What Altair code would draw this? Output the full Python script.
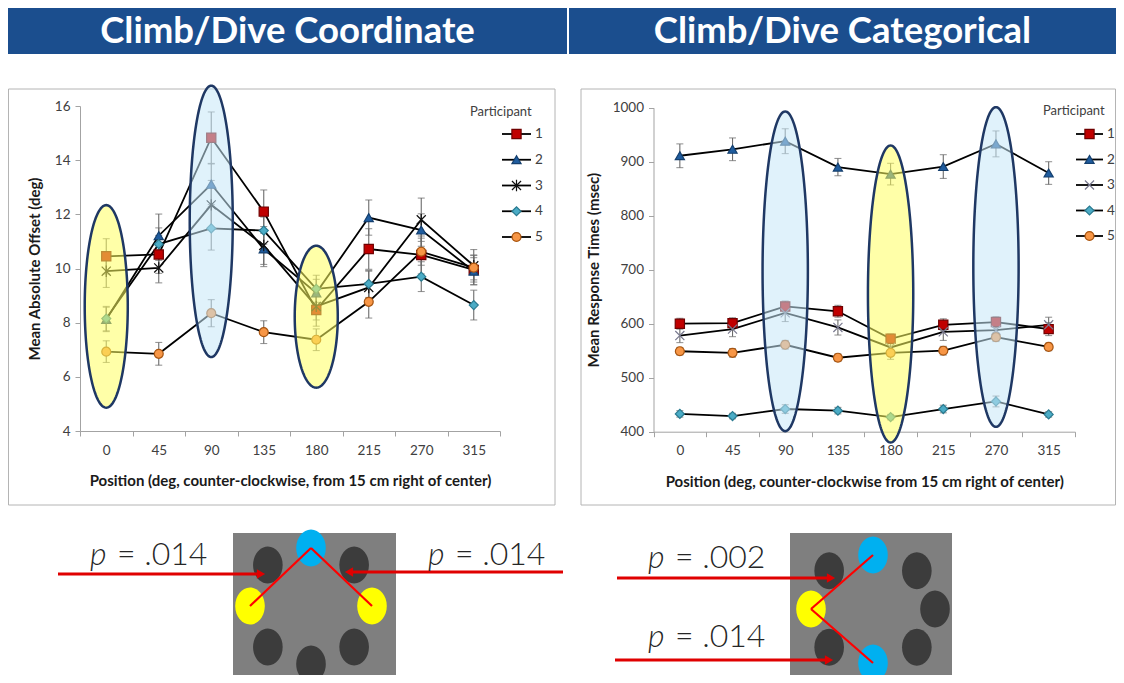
import json
import numpy as np
import pandas as pd
import altair as alt

# ---------------- data ----------------
positions = ["0", "45", "90", "135", "180", "215", "270", "315"]
participants = ["1", "2", "3", "4", "5"]

# Climb/Dive Coordinate: mean absolute offset (deg)
coord_p1 = [10.45, 10.52, 14.83, 12.10, 8.47, 10.72, 10.50, 9.95]
coord_p2 = [8.12, 11.21, 13.11, 10.72, 9.10, 11.88, 11.42, 9.90]
coord_p3 = [9.90, 10.02, 12.35, 10.85, 8.60, 9.30, 11.80, 10.10]
coord_p4 = [8.15, 10.90, 11.48, 11.40, 9.25, 9.43, 9.70, 8.65]
coord_p5 = [6.93, 6.85, 8.35, 7.65, 7.37, 8.77, 10.62, 10.03]
coord_err_p1 = [0.65, 0.70, 0.95, 0.80, 0.60, 0.75, 0.70, 0.55]
coord_err_p2 = [0.45, 0.80, 0.75, 0.65, 0.50, 0.65, 0.60, 0.50]
coord_err_p3 = [0.60, 0.55, 0.90, 0.70, 0.50, 0.60, 0.80, 0.60]
coord_err_p4 = [0.45, 0.60, 0.80, 0.50, 0.50, 0.50, 0.55, 0.55]
coord_err_p5 = [0.40, 0.42, 0.50, 0.42, 0.40, 0.60, 0.50, 0.45]

# Climb/Dive Categorical: mean response times (msec)
cat_p1 = [600, 601, 632, 623, 572, 598, 603, 590]
cat_p2 = [911, 923, 938, 890, 877, 891, 933, 879]
cat_p3 = [578, 590, 620, 593, 556, 585, 588, 598]
cat_p4 = [433, 429, 442, 439, 427, 442, 456, 432]
cat_p5 = [549, 546, 561, 537, 546, 550, 575, 557]
cat_err_p1 = [10, 10, 10, 11, 9, 11, 10, 12]
cat_err_p2 = [22, 21, 23, 16, 20, 22, 24, 21]
cat_err_p3 = [13, 14, 16, 14, 12, 16, 12, 14]
cat_err_p4 = [6, 5, 8, 6, 5, 7, 10, 5]
cat_err_p5 = [7, 8, 8, 7, 12, 8, 8, 7]

# highlighted positions (ellipses): position index, kind, middle and half height in data units
coord_hl_pos = [0, 2, 4]
coord_hl_kind = ["yellow", "blue", "yellow"]
coord_hl_mid = [8.6, 11.74, 8.22]
coord_hl_half = [3.74, 5.01, 2.62]
cat_hl_pos = [2, 4, 6]
cat_hl_kind = ["blue", "yellow", "blue"]
cat_hl_mid = [697, 655, 705]
cat_hl_half = [296, 275, 296]

coord_p_values = [".014", ".014"]
cat_p_values = [".002", ".014"]

titles = ["Climb/Dive Coordinate", "Climb/Dive Categorical"]

# ---------------- styles / layout ----------------
W, H = 1108, 667
FONT = "Lato"
AX = "#A3A3A3"
LABEL = "#404040"
TITLE = "#1A1A1A"
ERR = "#6B6B6B"
BANNER = "#1B4E8E"
ELL_STROKE = "#1F3864"
HL_FILL = {"yellow": "#FFFF60", "blue": "#C6E7F8"}
STIM = {"yellow": "#FFFF00", "blue": "#00B0F0", "dark": "#3C3C3C"}

STAR = "M-1,-1L1,1M-1,1L1,-1M0,-1.25L0,1.25"
XSHAPE = "M-1,-1L1,1M-1,1L1,-1"
OVAL = "M0,-1A0.8,1 0 1 1 0,1A0.8,1 0 1 1 0,-1Z"

fills = ["#C00000", "#1F5C9E", "transparent", "#4BACC6", "#F79646"]
strokes_coord = ["#700000", "#143F6E", "#111111", "#2A7A90", "#A85510"]
strokes_cat = ["#700000", "#143F6E", "#7A7A90", "#2A7A90", "#A85510"]
sizes = [85, 80, 75, 70, 80]

LABEL_FS = 13.5
TITLE_FS = 15


def panel_df(series, errs):
    rows = []
    for k, p in enumerate(participants):
        for i, pos in enumerate(positions):
            m, e = series[k][i], errs[k][i]
            rows.append(dict(idx=i, pos=pos, participant=p, mean=m, lo=m - e, hi=m + e))
    return pd.DataFrame(rows)


def ellipse_df(hl_pos, hl_kind, hl_mid, hl_half, half_w):
    t = np.linspace(0, np.pi, 81)
    rows = []
    for j, (c, kind, mid, half) in enumerate(zip(hl_pos, hl_kind, hl_mid, hl_half)):
        for tt in t:
            s = np.sin(tt)
            rows.append(dict(eid=j, x=c - half_w * np.cos(tt), lo=mid - half * s,
                             hi=mid + half * s, fillc=HL_FILL[kind]))
    return pd.DataFrame(rows)


def panel(df, edf, x_rng, y_rng, y_dom, y_vals, y_title, x_title, shapes, strokes, leg, ytp):
    xs = alt.Scale(domain=[-0.5, 7.5], range=list(x_rng), nice=False, zero=False)
    ys = alt.Scale(domain=y_dom, range=list(y_rng), nice=False, zero=False)
    band = (x_rng[1] - x_rng[0]) / 8
    label_expr = f"datum.value < 7 ? {json.dumps(positions)}[round(datum.value + 0.5)] : ''"
    x_axis = alt.Axis(orient="bottom", offset=y_rng[0] - H, values=[i - 0.5 for i in range(9)],
                      labelExpr=label_expr, labelOffset=band / 2, labelFlush=False,
                      labelOverlap=False, labelPadding=7, labelFontSize=LABEL_FS,
                      labelColor=LABEL, tickSize=5, tickColor=AX, domainColor=AX, grid=False,
                      title=x_title, titleFontSize=TITLE_FS, titleFontWeight="bold",
                      titleColor=TITLE, titlePadding=17)
    y_axis = alt.Axis(orient="left", offset=-x_rng[0], values=y_vals, format="d",
                      labelFontSize=LABEL_FS, labelColor=LABEL, labelPadding=5,
                      labelFlush=False, tickSize=5, tickColor=AX, domainColor=AX, grid=False,
                      title=y_title, titleFontSize=TITLE_FS, titleFontWeight="bold",
                      titleColor=TITLE, titlePadding=ytp)
    style = dict(
        shape=alt.Shape("participant:N", scale=alt.Scale(domain=participants, range=shapes), legend=None),
        fill=alt.Fill("participant:N", scale=alt.Scale(domain=participants, range=fills), legend=None),
        stroke=alt.Stroke("participant:N", scale=alt.Scale(domain=participants, range=strokes), legend=None),
        size=alt.Size("participant:O", scale=alt.Scale(domain=participants, range=sizes), legend=None),
    )
    base = alt.Chart(df)
    axes_layer = base.mark_rule(opacity=0).encode(
        x=alt.X("idx:Q", scale=xs, axis=x_axis), y=alt.Y("mean:Q", scale=ys, axis=y_axis))
    err = base.mark_rule(color=ERR, strokeWidth=1.1).encode(
        x=alt.X("idx:Q", scale=xs, axis=None), y=alt.Y("lo:Q", scale=ys, axis=None), y2="hi:Q")
    cap_lo = base.mark_tick(orient="horizontal", size=7, thickness=1.1, color=ERR).encode(
        x=alt.X("idx:Q", scale=xs, axis=None), y=alt.Y("lo:Q", scale=ys, axis=None))
    cap_hi = base.mark_tick(orient="horizontal", size=7, thickness=1.1, color=ERR).encode(
        x=alt.X("idx:Q", scale=xs, axis=None), y=alt.Y("hi:Q", scale=ys, axis=None))
    lines = base.mark_line(color="black", strokeWidth=1.8).encode(
        x=alt.X("idx:Q", scale=xs, axis=None), y=alt.Y("mean:Q", scale=ys, axis=None),
        detail="participant:N")
    pts = base.mark_point(filled=True, opacity=1, strokeWidth=1.2).encode(
        x=alt.X("idx:Q", scale=xs, axis=None), y=alt.Y("mean:Q", scale=ys, axis=None), **style)
    ell = alt.Chart(edf).mark_area(fillOpacity=0.55, stroke=ELL_STROKE, strokeWidth=2.5,
                                   strokeOpacity=1).encode(
        x=alt.X("x:Q", scale=xs, axis=None), y=alt.Y("lo:Q", scale=ys, axis=None), y2="hi:Q",
        fill=alt.Fill("fillc:N", scale=None), detail="eid:N")

    ldf = pd.DataFrame({"participant": participants, "pidx": list(range(len(participants)))})
    ly = alt.Y("pidx:Q", scale=alt.Scale(domain=[0, 4], range=[leg["y0"], leg["y1"]],
                                         nice=False, zero=False), axis=None)
    leg_line = alt.Chart(ldf).mark_rule(color="black", strokeWidth=1.8).encode(
        x=alt.value(leg["x0"]), x2=alt.value(leg["x1"]), y=ly)
    leg_pts = alt.Chart(ldf).mark_point(filled=True, opacity=1, strokeWidth=1.2).encode(
        x=alt.value((leg["x0"] + leg["x1"]) / 2), y=ly, **style)
    leg_lab = alt.Chart(ldf).mark_text(align="left", baseline="middle", fontSize=13.5,
                                       fill=LABEL, color=LABEL).encode(
        x=alt.value(leg["lx"]), y=ly, text="participant:N")
    leg_title = alt.Chart(pd.DataFrame({"t": ["Participant"]})).mark_text(
        align="left", baseline="middle", fontSize=13, fill=LABEL, color=LABEL).encode(
        x=alt.value(leg["tx"]), y=alt.value(leg["ty"]), text="t:N")
    return [axes_layer, err, cap_lo, cap_hi, lines, pts, ell,
            leg_line, leg_pts, leg_lab, leg_title]


coord_df = panel_df([coord_p1, coord_p2, coord_p3, coord_p4, coord_p5],
                    [coord_err_p1, coord_err_p2, coord_err_p3, coord_err_p4, coord_err_p5])
cat_df = panel_df([cat_p1, cat_p2, cat_p3, cat_p4, cat_p5],
                  [cat_err_p1, cat_err_p2, cat_err_p3, cat_err_p4, cat_err_p5])

left = panel(coord_df, ellipse_df(coord_hl_pos, coord_hl_kind, coord_hl_mid, coord_hl_half, 0.41),
             (72, 492), (423, 98), [4, 16], [4, 6, 8, 10, 12, 14, 16],
             "Mean Absolute Offset  (deg)",
             "Position (deg, counter-clockwise, from 15 cm right of center)",
             ["square", "triangle-up", STAR, "diamond", "circle"], strokes_coord,
             dict(x0=494, x1=523, lx=527, y0=126, y1=229, tx=462, ty=104), 12)
right = panel(cat_df, ellipse_df(cat_hl_pos, cat_hl_kind, cat_hl_mid, cat_hl_half, 0.43),
              (645.5, 1067), (423.7, 99.7), [400, 1000], [400, 500, 600, 700, 800, 900, 1000],
              "Mean Response Times  (msec)",
              "Position (deg, counter-clockwise from 15 cm right of center)",
              ["square", "triangle-up", XSHAPE, "diamond", "circle"], strokes_cat,
              dict(x0=1068, x1=1095, lx=1099, y0=126, y1=228, tx=1035, ty=103), 11)

# ---------------- slide decoration (banners, frames) ----------------
sx = alt.Scale(domain=[0, W], range=[0, W], nice=False, zero=False)
sy = alt.Scale(domain=[0, H], range=[0, H], nice=False, zero=False)
SX = lambda f: alt.X(f, type="quantitative", scale=sx, axis=None)
SY = lambda f: alt.Y(f, type="quantitative", scale=sy, axis=None)

banner_df = pd.DataFrame({"title": titles, "x1": [0, 561], "x2": [559, W],
                          "y1": [0, 0], "y2": [46, 46]})
banner_df["cx"] = (banner_df.x1 + banner_df.x2) / 2
banner_df["cy"] = 23.5
frame_df = pd.DataFrame({"x1": [0.5, 573], "x2": [547, 1107.5], "y1": [81, 81], "y2": [497, 497]})

banner_rect = alt.Chart(banner_df).mark_rect(color=BANNER).encode(
    x=SX("x1"), x2="x2", y=SY("y1"), y2="y2")
banner_text = alt.Chart(banner_df).mark_text(color="white", fontSize=36.5, fontWeight="bold",
                                             baseline="middle").encode(
    x=SX("cx"), y=SY("cy"), text="title:N")
frames = alt.Chart(frame_df).mark_rect(fill="transparent", stroke="#B4B4B4", strokeWidth=1).encode(
    x=SX("x1"), x2="x2", y=SY("y1"), y2="y2")
deco = [banner_rect, banner_text, frames]

# ---------------- stimulus diagrams ----------------
angles = [0, 45, 90, 135, 180, 225, 270, 315]
diagrams = [
    dict(cx=303, cy=598, rx=61, ry=58, x1=225, x2=388, hl_pos=coord_hl_pos, hl_kind=coord_hl_kind),
    dict(cx=865, cy=601, rx=62, ry=54, x1=782, x2=944, hl_pos=cat_hl_pos, hl_kind=cat_hl_kind),
]
circ_rows, link_rows, box_rows = [], [], []
for d in diagrams:
    box_rows.append(dict(x1=d["x1"], x2=d["x2"], y1=525, y2=H))
    pos_xy = {}
    for i, a in enumerate(angles):
        kind = d["hl_kind"][d["hl_pos"].index(i)] if i in d["hl_pos"] else "dark"
        x = d["cx"] + d["rx"] * np.cos(np.radians(a))
        y = d["cy"] - d["ry"] * np.sin(np.radians(a))
        pos_xy[i] = (x, y, kind)
        circ_rows.append(dict(x=x, y=y, col=STIM[kind]))
    for i, (xa, ya, ka) in pos_xy.items():
        if ka != "blue":
            continue
        for j, (xb, yb, kb) in pos_xy.items():
            if kb == "yellow":
                link_rows.append(dict(x=xa, y=ya, x2=xb, y2=yb))
circ_df = pd.DataFrame(circ_rows)
link_df = pd.DataFrame(link_rows)
box_df = pd.DataFrame(box_rows)

arrow_df = pd.DataFrame({"xs": [50, 555, 609, 607], "xt": [257, 337, 827, 825],
                         "y": [566, 564, 570, 652],
                         "dir": ["right", "left", "right", "right"]})
arrow_df["sgn"] = np.where(arrow_df["dir"] == "right", 1, -1)
arrow_df["xb"] = arrow_df.xt - 7 * arrow_df.sgn
arrow_df["xh"] = arrow_df.xt - 4 * arrow_df.sgn
arrow_df["shape"] = "triangle-" + arrow_df["dir"]

ptext_df = pd.DataFrame({"x": [82, 420, 640, 640], "y": [557, 557, 560, 639],
                         "val": coord_p_values + cat_p_values})
ptext_df["p"] = "p"
ptext_df["rest"] = "= " + ptext_df["val"]
ptext_df["xr"] = ptext_df.x + 27

boxes = alt.Chart(box_df).mark_rect(color="#7F7F7F").encode(
    x=SX("x1"), x2="x2", y=SY("y1"), y2="y2")
circles = alt.Chart(circ_df).mark_point(filled=True, opacity=1, shape=OVAL, size=1369).encode(
    x=SX("x"), y=SY("y"), fill=alt.Fill("col:N", scale=None))
links = alt.Chart(link_df).mark_rule(color="#FF0000", strokeWidth=2.2).encode(
    x=SX("x"), y=SY("y"), x2="x2", y2="y2")
arrow_body = alt.Chart(arrow_df).mark_rule(color="#E00000", strokeWidth=3).encode(
    x=SX("xs"), x2="xb", y=SY("y"))
arrow_head = alt.Chart(arrow_df).mark_point(filled=True, opacity=1, color="#E00000", size=90).encode(
    x=SX("xh"), y=SY("y"), shape=alt.Shape("shape:N", scale=None))
p_txt = alt.Chart(ptext_df).mark_text(align="left", baseline="alphabetic", fontSize=32,
                                      fontStyle="italic", fontWeight=300, color="#262626").encode(
    x=SX("x"), y=SY("y"), text="p:N")
v_txt = alt.Chart(ptext_df).mark_text(align="left", baseline="alphabetic", fontSize=32,
                                      fontWeight=300, color="#262626").encode(
    x=SX("xr"), y=SY("y"), text="rest:N")
diag = [boxes, circles, links, arrow_body, arrow_head, p_txt, v_txt]

chart = alt.layer(*deco, *left, *right, *diag).resolve_scale(
    x="independent", y="independent", shape="independent", fill="independent",
    stroke="independent", size="independent"
).properties(
    width=W, height=H, padding=0, autosize=alt.AutoSizeParams(type="none")
).configure(font=FONT).configure_view(stroke=None)

chart.save("out.html", embed_options={"renderer": "svg", "actions": False})
